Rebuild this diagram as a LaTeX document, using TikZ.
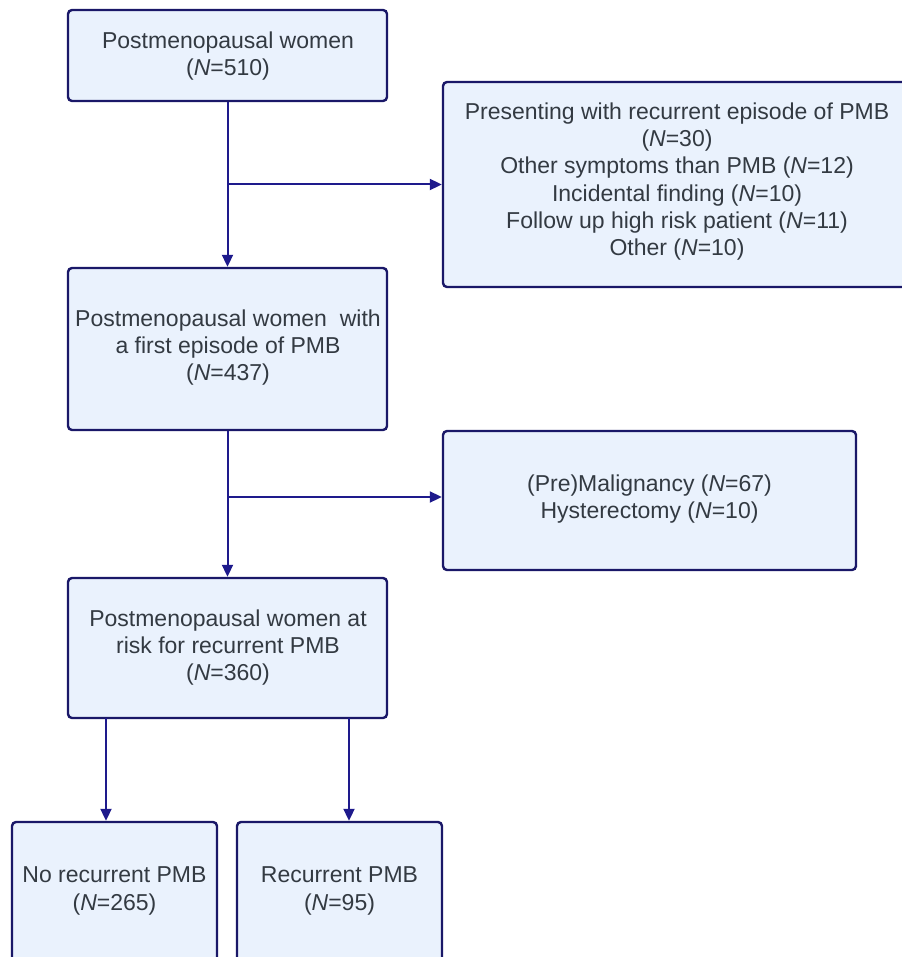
\documentclass[tikz,border=0pt]{standalone}
\usepackage{fontspec}
\setmainfont{Liberation Sans}
\usetikzlibrary{arrows.meta}
\definecolor{boxfill}{RGB}{234,242,253}
\definecolor{boxline}{RGB}{26,24,104}
\definecolor{arrcol}{RGB}{30,26,140}
\definecolor{txtcol}{RGB}{51,58,66}
\tikzset{
  box/.style={draw=boxline, fill=boxfill, line width=2.4pt, rounded corners=4pt, inner sep=0pt},
  txt/.style={align=center, text=txtcol, inner sep=0pt, font=\fontsize{23}{27.3}\selectfont},
  arr/.style={draw=arrcol, line width=2pt, -{Triangle[length=12pt,width=11pt]}},
}
\begin{document}
\begin{tikzpicture}[x=1pt,y=-1pt]
\useasboundingbox (0,0) rectangle (901,957);
% boxes
\node[box, minimum width=319pt, minimum height=91pt] (A) at (227.5,55.5) {};
\node[box, minimum width=467pt, minimum height=205pt] (B) at (676.5,184.5) {};
\node[box, minimum width=319pt, minimum height=162pt] (C) at (227.5,349) {};
\node[box, minimum width=413pt, minimum height=139pt] (D) at (649.5,500.5) {};
\node[box, minimum width=319pt, minimum height=140pt] (E) at (227.5,648) {};
\node[box, minimum width=205pt, minimum height=150pt] (F) at (114.5,897) {};
\node[box, minimum width=205pt, minimum height=150pt] (G) at (339.5,897) {};
% texts
\node[txt] (tA) at (228,56) {Postmenopausal women\\(\textit{N}=510)};
\node[txt] (tB) at (677,181.5) {Presenting with recurrent episode of PMB\\(\textit{N}=30)\\Other symptoms than PMB (\textit{N}=12)\\Incidental finding (\textit{N}=10)\\Follow up high risk patient (\textit{N}=11)\\Other (\textit{N}=10)};
\node[txt] (tC) at (228,347.5) {Postmenopausal women\ \ with\\a first episode of PMB\\(\textit{N}=437)};
\node[txt] (tD) at (649.5,499) {(Pre)Malignancy (\textit{N}=67)\\Hysterectomy (\textit{N}=10)};
\node[txt] (tE) at (228,647.5) {Postmenopausal women at\\risk for recurrent PMB\\(\textit{N}=360)};
\node[txt] (tF) at (114.5,891) {No recurrent PMB\\(\textit{N}=265)};
\node[txt] (tG) at (339.5,891) {Recurrent PMB\\(\textit{N}=95)};
% connectors
\draw[arr] (A.south) -- (C.north);
\draw[arr] (A.south |- B.west) -- (B.west);
\draw[arr] (C.south) -- (E.north);
\coordinate (d1) at (227.5,497);
\draw[arr] (d1) -- (d1 -| D.west);
\coordinate (e1) at (106,718);
\coordinate (e2) at (349,718);
\draw[arr] (e1) -- (e1 |- F.north);
\draw[arr] (e2) -- (e2 |- G.north);
\end{tikzpicture}
\end{document}
